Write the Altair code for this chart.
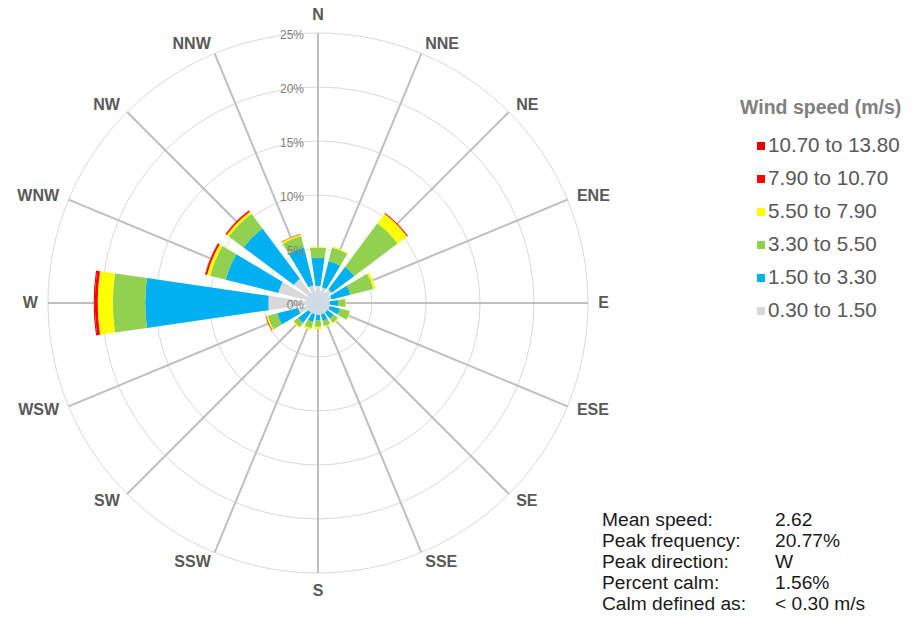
import altair as alt
import pandas as pd

# ---------------- data ----------------
directions = ["N", "NNE", "NE", "ENE", "E", "ESE", "SE", "SSE",
              "S", "SSW", "SW", "WSW", "W", "WNW", "NW", "NNW"]
dir_angles = [0, 22.5, 45, 67.5, 90, 112.5, 135, 157.5,
              180, 202.5, 225, 247.5, 270, 292.5, 315, 337.5]

speed_bins = ["0.30 to 1.50", "1.50 to 3.30", "3.30 to 5.50",
              "5.50 to 7.90", "7.90 to 10.70", "10.70 to 13.80"]
bin_colors = ["#d9d9d9", "#00b0f0", "#92d050", "#ffff00", "#ff0000", "#e80000"]

# frequency (%) per direction for each speed class
freq_030_150 = [1.6, 1.5, 1.6, 1.3, 1.0, 1.1, 1.0, 1.0, 1.0, 1.0, 1.1, 1.9, 4.6, 3.8, 2.8, 1.7]
freq_150_330 = [2.6, 2.5, 2.6, 1.8, 0.9, 1.0, 0.8, 0.7, 0.6, 0.8, 1.2, 2.0, 11.4, 5.0, 5.8, 3.6]
freq_330_550 = [0.95, 1.3, 5.0, 2.2, 0.65, 0.95, 0.5, 0.5, 0.6, 0.6, 0.5, 0.9, 3.0, 1.5, 1.7, 1.1]
freq_550_790 = [0.05, 0.1, 1.1, 0.2, 0.05, 0.05, 0.1, 0.1, 0.2, 0.2, 0.1, 0.15, 1.4, 0.3, 0.25, 0.15]
freq_790_1070 = [0, 0, 0.08, 0, 0, 0, 0, 0, 0, 0, 0, 0.05, 0.27, 0.15, 0.1, 0.05]
freq_1070_1380 = [0, 0, 0.02, 0, 0, 0, 0, 0, 0, 0, 0, 0, 0.1, 0.05, 0.05, 0]

ring_values = [5, 10, 15, 20, 25]
tick_values = [0, 5, 10, 15, 20, 25]
tick_labels = ["0%", "5%", "10%", "15%", "20%", "25%"]

legend_title = "Wind speed (m/s)"
stat_names = ["Mean speed:", "Peak frequency:", "Peak direction:", "Percent calm:", "Calm defined as:"]
stat_values = ["2.62", "20.77%", "W", "1.56%", "< 0.30 m/s"]

# ---------------- tables ----------------
series = [freq_030_150, freq_150_330, freq_330_550, freq_550_790, freq_790_1070, freq_1070_1380]
rows = []
for i, d in enumerate(directions):
    cum = 0.0
    for b, vals in enumerate(series):
        v = vals[i]
        if v <= 0:
            continue
        rows.append({"dir": d, "bin": speed_bins[b],
                     "t0": dir_angles[i] - 8.3, "t1": dir_angles[i] + 8.3,
                     "r0": cum, "r1": cum + v})
        cum += v
petals = pd.DataFrame(rows)

dirs_df = pd.DataFrame({"dir": directions, "angle": dir_angles})
rings_df = pd.DataFrame({"r": ring_values})
ticks_df = pd.DataFrame({"v": tick_values, "label": tick_labels})
legend_order = speed_bins[::-1]
legend_df = pd.DataFrame({"bin": legend_order, "row": list(range(len(legend_order)))})
stats_df = pd.DataFrame({"name": stat_names, "value": stat_values, "row": list(range(len(stat_names)))})

# ---------------- scales ----------------
CX, CY, R = 318, 303, 270
MAXP = 25
theta_scale = alt.Scale(domain=[0, 360], range=[0, 6.283185307], nice=False, zero=False)
r_scale = alt.Scale(type="linear", domain=[0, MAXP], range=[0, R], zero=True, nice=False)
x_scale = alt.Scale(domain=[-MAXP, MAXP], range=[CX - R, CX + R], nice=False, zero=False)
y_scale = alt.Scale(domain=[-MAXP, MAXP], range=[CY + R, CY - R], nice=False, zero=False)
color_scale = alt.Scale(domain=speed_bins, range=bin_colors)

FONT = "Liberation Sans"
LABEL_R = 25.95  # label anchor radius (in % units)

rings = alt.Chart(rings_df).mark_arc(filled=False, stroke="#d9d9d9", strokeWidth=1).encode(
    theta=alt.value(0), theta2=alt.value(6.283185307),
    radius=alt.Radius("r:Q", scale=r_scale, stack=None),
    x=alt.value(CX), y=alt.value(CY),
)

spokes = alt.Chart(dirs_df).transform_calculate(
    x0="0", y0="0",
    x1=f"{MAXP}*sin(datum.angle*PI/180)",
    y1=f"{MAXP}*cos(datum.angle*PI/180)",
).mark_rule(color="#bfbfbf", strokeWidth=2).encode(
    x=alt.X("x0:Q", scale=x_scale, axis=None),
    y=alt.Y("y0:Q", scale=y_scale, axis=None),
    x2="x1:Q", y2="y1:Q",
)

petal_layer = alt.Chart(petals).mark_arc().encode(
    theta=alt.Theta("t0:Q", scale=theta_scale),
    theta2="t1:Q",
    radius=alt.Radius("r1:Q", scale=r_scale, stack=None),
    radius2="r0:Q",
    color=alt.Color("bin:N", scale=color_scale, legend=None),
    x=alt.value(CX), y=alt.value(CY),
)

hub = alt.Chart(pd.DataFrame({"r": [1.1]})).mark_arc(color="#cddbe6", opacity=0.9).encode(
    theta=alt.value(0), theta2=alt.value(6.283185307),
    radius=alt.Radius("r:Q", scale=r_scale, stack=None),
    x=alt.value(CX), y=alt.value(CY),
)

tick_text = alt.Chart(ticks_df).transform_calculate(x0="0").mark_text(
    align="right", baseline="middle", dx=-14, dy=2, fontSize=12, color="#7f7f7f",
    font="Liberation Sans Narrow, Liberation Sans",
).encode(
    x=alt.X("x0:Q", scale=x_scale, axis=None),
    y=alt.Y("v:Q", scale=y_scale, axis=None),
    text="label:N",
)


def dir_labels(filter_expr, align, extra):
    return alt.Chart(dirs_df).transform_calculate(
        lx=f"{LABEL_R + extra}*sin(datum.angle*PI/180)",
        ly=f"{LABEL_R + extra}*cos(datum.angle*PI/180)",
        s="sin(datum.angle*PI/180)",
    ).transform_filter(filter_expr).mark_text(
        align=align, baseline="middle", fontSize=16, fontWeight="bold",
        color="#595959", font=FONT,
    ).encode(
        x=alt.X("lx:Q", scale=x_scale, axis=None),
        y=alt.Y("ly:Q", scale=y_scale, axis=None),
        text="dir:N",
    )


dir_right = dir_labels("datum.s > 0.01", "left", 0)
dir_left = dir_labels("datum.s < -0.01", "right", 0)
dir_mid = dir_labels("abs(datum.s) <= 0.01", "center", 0.75)

leg_title = alt.Chart(pd.DataFrame({"t": [legend_title]})).mark_text(
    align="left", baseline="middle", fontSize=19.5, fontWeight="bold", color="#808080", font=FONT,
).encode(text="t:N", x=alt.value(740), y=alt.value(108))

leg_y = alt.Y("row:O", scale=alt.Scale(type="point", range=[146, 311], padding=0), axis=None)

leg_sym = alt.Chart(legend_df).mark_square(size=64, opacity=1).encode(
    x=alt.value(761), y=leg_y,
    color=alt.Color("bin:N", scale=color_scale, legend=None),
)

leg_lab = alt.Chart(legend_df).mark_text(
    align="left", baseline="middle", fontSize=20.6, color="#595959", font=FONT,
).encode(x=alt.value(768), y=leg_y, text="bin:N")

stat_y = alt.Y("row:O", scale=alt.Scale(type="point", range=[520, 604], padding=0), axis=None)
stat_names_layer = alt.Chart(stats_df).mark_text(
    align="left", baseline="middle", fontSize=19.2, color="#1a1a1a", font=FONT,
).encode(x=alt.value(602), y=stat_y, text="name:N")
stat_vals_layer = alt.Chart(stats_df).mark_text(
    align="left", baseline="middle", fontSize=19.2, color="#1a1a1a", font=FONT,
).encode(x=alt.value(775), y=stat_y, text="value:N")

chart = alt.layer(
    rings, spokes, petal_layer, hub, tick_text, dir_right, dir_left, dir_mid,
    leg_title, leg_sym, leg_lab, stat_names_layer, stat_vals_layer,
).resolve_scale(
    x="independent", y="independent"
).properties(
    width=914, height=625, padding=0, background="white",
    autosize=alt.AutoSizeParams(type="none"),
).configure_view(stroke=None)

chart.save("out.html", embed_options={"renderer": "svg", "actions": False})
